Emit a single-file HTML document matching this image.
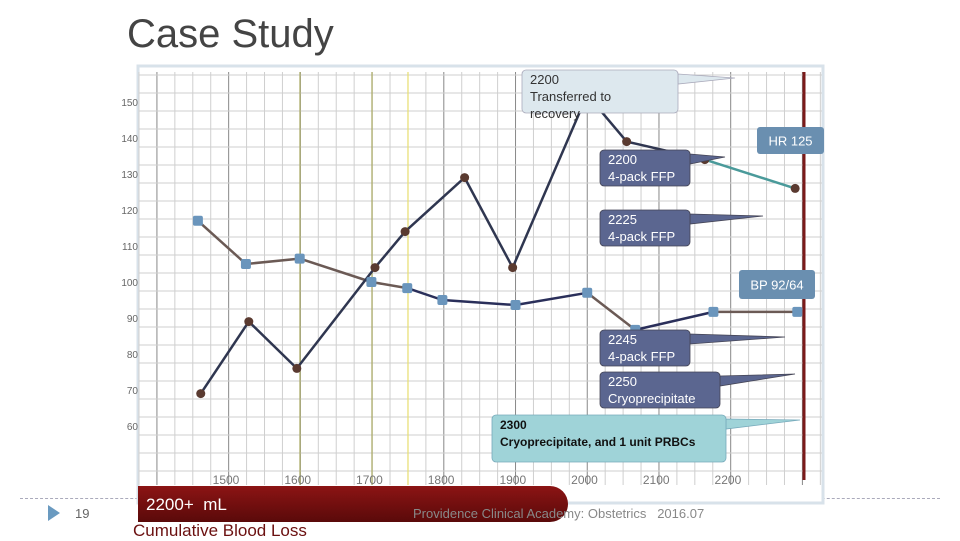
<!DOCTYPE html>
<html><head><meta charset="utf-8"><style>
body{margin:0;background:#fff;width:960px;height:540px;overflow:hidden;font-family:"Liberation Sans",sans-serif;position:relative}
.abs{position:absolute}
</style></head><body>
<div class="abs" style="left:127px;top:12px;font-size:40px;color:#444">Case Study</div>
<div class="abs" style="left:20px;top:498px;width:920px;border-top:1px dashed #aab"></div>
<svg class="abs" style="left:0;top:0" width="960" height="540" id="chart">
<rect x="138" y="66" width="685" height="437" fill="#fff" stroke="#d8e2ea" stroke-width="3"/>
<g id="grid"></g><g id="axes"></g><g id="series"></g><g id="callouts"></g>
</svg>
<div class="abs" style="left:138px;top:486px;width:430px;height:36px;background:linear-gradient(#8c1414,#5a0a0a);border-radius:0 20px 20px 0"></div>
<div class="abs" style="left:146px;top:495px;font-size:17px;color:#fff">2200+&nbsp; mL</div>
<div class="abs" style="left:133px;top:521px;font-size:17px;color:#6b1010">Cumulative Blood Loss</div>
<div class="abs" style="left:413px;top:506px;font-size:13px;color:#888">Providence Clinical Academy: Obstetrics &nbsp; 2016.07</div>
<div class="abs" style="left:75px;top:506px;font-size:13px;color:#666">19</div>
<div class="abs" style="left:48px;top:505px;width:0;height:0;border-left:12px solid #6a9ac0;border-top:8px solid transparent;border-bottom:8px solid transparent"></div>
<script>
const yTicks=[150,140,130,120,110,100,90,80,70,60];
const xTicks=[1500,1600,1700,1800,1900,2000,2100,2200];
const hrTimes=[1462,1529,1596,1705,1747,1830,1897,2001,2056,2165,2291];
const hrValues=[69,89,76,104,114,129,104,152,139,134,126];
const bpTimes=[1458,1525,1600,1700,1750,1799,1901,2001,2068,2177,2294];
const bpValues=[117,105,106.5,100,98.3,95,93.6,97,86.7,91.7,91.7];
const bpColors=["#6b5a55","#6b5a55","#6b5a55","#6b5a55","#2a2f5a","#2a2f5a","#2a2f5a","#6b5a55","#2a2f5a","#6b5a55"];
const hrColors=["#2f3650","#2f3650","#2f3650","#2f3650","#2f3650","#2f3650","#2f3650","#2f3650","#2f3650","#4a9a9a"];
const X=t=>228+(t-1500)*0.717;
const Y=v=>102+(150-v)*3.6;
const NS="http://www.w3.org/2000/svg";
function mk(parent,tag,attrs,text){const e=document.createElementNS(NS,tag);for(const k in attrs)e.setAttribute(k,attrs[k]);if(text!==undefined)e.textContent=text;document.getElementById(parent).appendChild(e);return e;}
for(let x=139;x<=822;x+=17.93){const major=Math.abs(((x-157)/71.7)-Math.round((x-157)/71.7))<0.05;
const l=mk('grid','line',{x1:x,x2:x,y1:72,y2:485,stroke:major?'#888':'#cfcfcf','stroke-width':1});
}
for(let y=75;y<=485;y+=18){const l=mk('grid','line',{x1:139,x2:822,y1:y,y2:y,stroke:'#cfcfcf','stroke-width':1});
}
[[300,'#a8a860'],[372,'#a8a860'],[408,'#e8e070']].forEach(([x,c])=>{const l=mk('grid','line',{x1:x,x2:x,y1:72,y2:485,stroke:c,'stroke-width':1.2});
});
const rl=mk('grid','line',{x1:804,x2:804,y1:72,y2:480,stroke:'#7a1a1a','stroke-width':3});

yTicks.forEach(v=>{const t=mk('axes','text',{x:138,y:Y(v)+4,'text-anchor':'end','font-size':10,fill:'#666'},v);
});
xTicks.forEach(v=>{const t=mk('axes','text',{x:X(v)-2,y:484,'text-anchor':'middle','font-size':12,fill:'#777'},v);
});
for(let i=0;i<bpTimes.length-1;i++){const l=mk('series','line',{x1:X(bpTimes[i]),y1:Y(bpValues[i]),x2:X(bpTimes[i+1]),y2:Y(bpValues[i+1]),stroke:bpColors[i],'stroke-width':2.5});
}
for(let i=0;i<hrTimes.length-1;i++){const l=mk('series','line',{x1:X(hrTimes[i]),y1:Y(hrValues[i]),x2:X(hrTimes[i+1]),y2:Y(hrValues[i+1]),stroke:hrColors[i],'stroke-width':2.5});
}
bpTimes.forEach((t,i)=>{const r=mk('series','rect',{x:X(t)-5,y:Y(bpValues[i])-5,width:10,height:10,rx:2,fill:'#6a95bc'});
});
hrTimes.forEach((t,i)=>{const c=mk('series','circle',{cx:X(t),cy:Y(hrValues[i]),r:4.5,fill:'#5a3a30'});
});
const callouts=[
[522,70,156,43,735,78,'#dde8ee','#333',['2200','Transferred to','recovery'],'callout-transferred',13,'#aab'],
[600,150,90,36,725,157,'#5b6690','#fff',['2200','4-pack FFP'],'callout-ffp-2200',13,'#445'],
[600,210,90,36,763,216,'#5b6690','#fff',['2225','4-pack FFP'],'callout-ffp-2225',13,'#445'],
[600,330,90,36,785,337,'#5b6690','#fff',['2245','4-pack FFP'],'callout-ffp-2245',13,'#445'],
[600,372,120,36,795,374,'#5b6690','#fff',['2250','Cryoprecipitate'],'callout-cryo-2250',13,'#445'],
[492,415,234,47,800,420,'#9fd3d8','#111',['2300','Cryoprecipitate, and 1 unit PRBCs'],'callout-2300',12,'#7ab']];
callouts.forEach(([x,y,w,h,tx,ty,f,tc,lines,name,fs,sc])=>{
const p=mk('callouts','path',{d:`M${x+w} ${y+4} L${tx} ${ty} L${x+w} ${y+14} Z`,fill:f,stroke:sc,'stroke-width':0.8});

const r=mk('callouts','rect',{x:x,y:y,width:w,height:h,rx:4,fill:f,stroke:sc,'stroke-width':0.8});

lines.forEach((s,i)=>{const t=mk('callouts','text',{x:x+8,y:y+14+i*17,'font-size':fs,fill:tc,'font-weight':name==='callout-2300'?'bold':'normal'},s);
});});
[[757,127,67,27,'HR  125','hr-label'],[739,270,76,29,'BP 92/64','bp-label']].forEach(([x,y,w,h,s,n])=>{
const r=mk('callouts','rect',{x:x,y:y,width:w,height:h,rx:3,fill:'#6a8fb0'});

const t=mk('callouts','text',{x:x+w/2,y:y+h/2+5,'text-anchor':'middle','font-size':13,fill:'#fff'},s);
});
</script>
</body></html>
